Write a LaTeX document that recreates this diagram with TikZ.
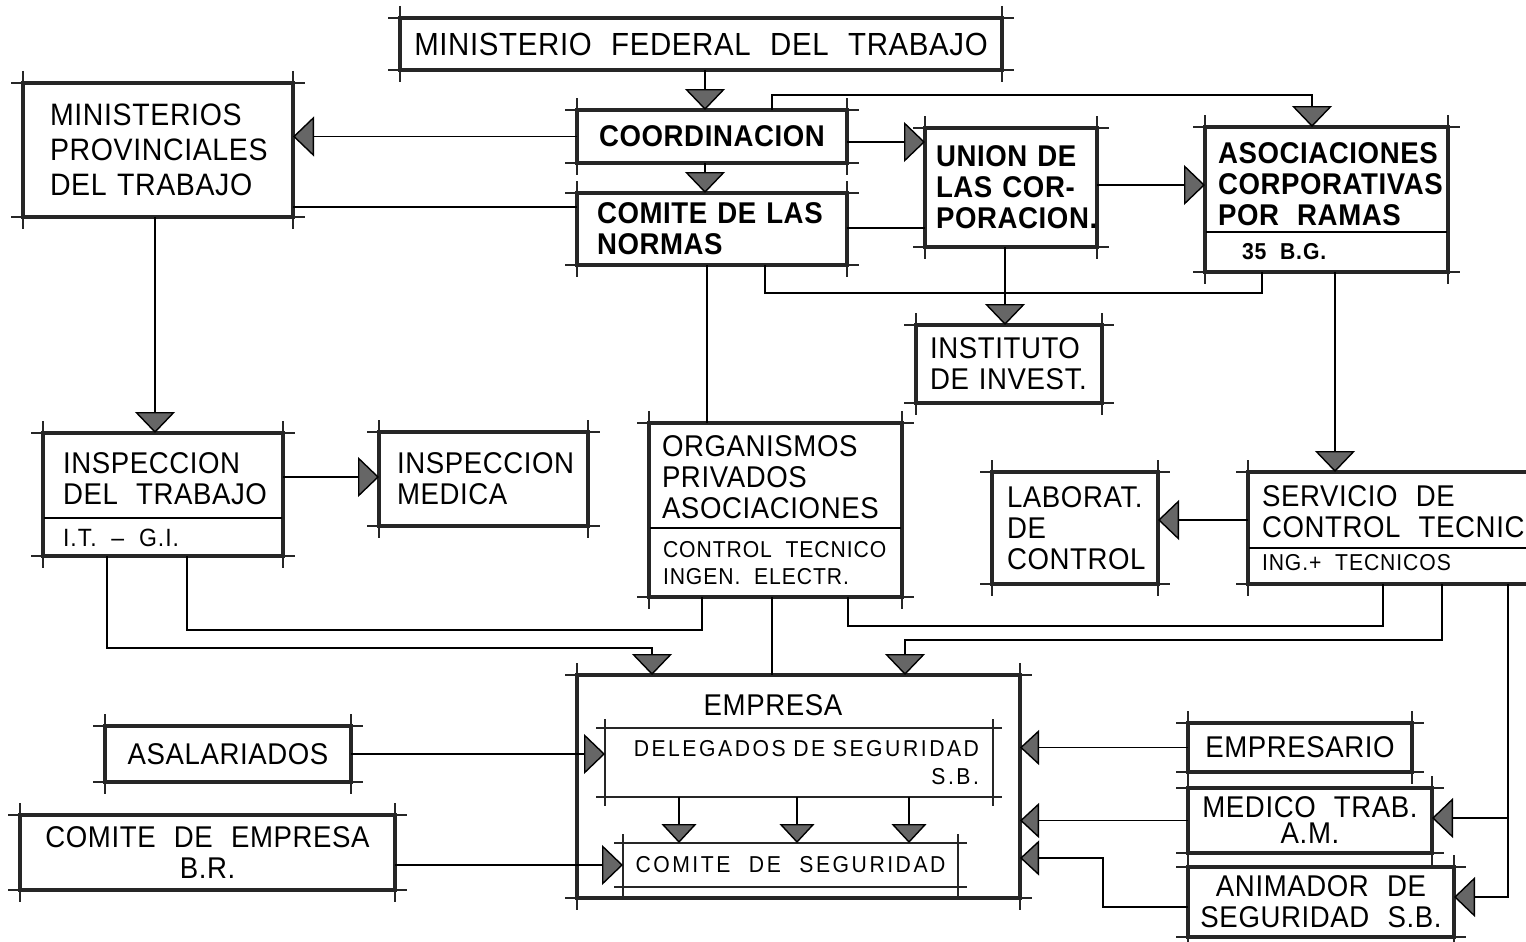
\documentclass[tikz,border=0pt]{standalone}
\usepackage{fontspec}
\setmainfont{Liberation Sans}[FakeStretch=0.92, WordSpace=2.2, LetterSpace=2]
\newfontfamily\smallfont{Liberation Sans}[FakeStretch=0.92, WordSpace=2, LetterSpace=4]
\newfontfamily\widesmallfont{Liberation Sans}[FakeStretch=0.92, WordSpace=2.2, LetterSpace=11]
\usetikzlibrary{arrows.meta,calc}
\newcommand\mainsize{\fontsize{30}{31}\selectfont}
\newcommand\bigsize{\fontsize{32}{34}\selectfont}
\newcommand\provsize{\fontsize{31}{35}\selectfont}
\newcommand\smallsize{\smallfont\fontsize{23}{27}\selectfont}
\newcommand\widesize{\widesmallfont\fontsize{23}{28}\selectfont}
\tikzset{
  box/.style={draw=black!85, line width=4pt, rectangle, inner sep=0pt, outer sep=0pt, fill=white, font=\mainsize},
  thinbox/.style={draw=black, line width=1.3pt, rectangle, inner sep=0pt, outer sep=0pt, font=\widesize},
  txt/.style={inner sep=0pt, outer sep=0pt, font=\mainsize, align=left, anchor=west},
  stxt/.style={txt, font=\smallsize},
  conn/.style={line width=1.4pt, black},
  arr/.style={conn, -{Triangle[width=40pt,length=21pt,fill=black!60]}},
  arrs/.style={conn, -{Triangle[width=35pt,length=19pt,fill=black!60]}},
  tick/.style={line width=1.1pt, black!85},
}
\newcommand\boxticks[2][12]{%
  \draw[tick] ($(#2.north west)+(-#1,0)$) -- ($(#2.north east)+(#1,0)$);
  \draw[tick] ($(#2.south west)+(-#1,0)$) -- ($(#2.south east)+(#1,0)$);
  \draw[tick] ($(#2.north west)+(0,-#1)$) -- ($(#2.south west)+(0,#1)$);
  \draw[tick] ($(#2.north east)+(0,-#1)$) -- ($(#2.south east)+(0,#1)$);
}
\begin{document}
\begin{tikzpicture}[x=1pt,y=-1pt]
\useasboundingbox (0,0) rectangle (1526,942);

% ---------- boxes ----------
\node[box, minimum width=602, minimum height=52, font=\bigsize] (mft) at (701,44) {MINISTERIO FEDERAL DEL TRABAJO};
\node[box, minimum width=270, minimum height=134, text width=216, inner xsep=27, align=left, font=\provsize] (mpt) at (158,150) {MINISTERIOS\\PROVINCIALES\\DEL TRABAJO};
\node[box, minimum width=270, minimum height=53, font=\mainsize\bfseries] (crd) at (712,136.5) {COORDINACION};
\node[box, minimum width=270, minimum height=72, text width=230, inner xsep=20, align=left, font=\mainsize\bfseries] (cdn) at (712,229) {COMITE DE LAS\\NORMAS};
\node[box, minimum width=172, minimum height=119, text width=150, inner xsep=11, align=left, font=\mainsize\bfseries] (uni) at (1011,187.5) {\makebox[150pt][s]{UNION DE}\\\makebox[150pt][s]{LAS COR-}\\PORACION.};
\node[box, minimum width=243, minimum height=145] (aso) at (1326.5,199.5) {};
\node[box, minimum width=186, minimum height=78, text width=158, inner xsep=14, align=left] (ins) at (1009,364) {INSTITUTO\\DE INVEST.};
\node[box, minimum width=253, minimum height=174] (org) at (775.5,510) {};
\node[box, minimum width=240, minimum height=123] (itr) at (163,494.5) {};
\node[box, minimum width=209, minimum height=94, text width=173, inner xsep=18, align=left] (imd) at (483.5,479) {INSPECCION\\MEDICA};
\node[box, minimum width=166, minimum height=112, text width=136, inner xsep=15, align=left] (lab) at (1075,528) {LABORAT.\\DE\\CONTROL};
\node[box, minimum width=297, minimum height=112] (ser) at (1396.5,528) {};
\node[box, minimum width=443, minimum height=223] (emp) at (798.5,786.5) {};
\node[thinbox, minimum width=388, minimum height=69, text width=360, inner xsep=14, align=right] (dlg) at (799,762.5) {DELEGADOS DE SEGURIDAD\\S.B.\hspace*{12pt}};
\node[thinbox, minimum width=335, minimum height=44] (cse) at (790.5,865) {COMITE DE SEGURIDAD};
\node[box, minimum width=246, minimum height=56] (asa) at (228,754) {ASALARIADOS};
\node[box, minimum width=375, minimum height=75, align=center] (cem) at (207.5,852.5) {COMITE DE EMPRESA\\B.R.};
\node[box, minimum width=224, minimum height=49] (epr) at (1300,747.5) {EMPRESARIO};
\node[box, minimum width=244, minimum height=65, align=center] (med) at (1310,820.5) {MEDICO TRAB.\\[-5pt]A.M.};
\node[box, minimum width=266, minimum height=70, align=center] (ani) at (1321,902) {ANIMADOR DE\\SEGURIDAD S.B.};

% texts of divided boxes
\node[txt, font=\mainsize\bfseries] (asoT) at (1218,184) {ASOCIACIONES\\CORPORATIVAS\\POR RAMAS};
\node[stxt, font=\smallsize\bfseries] (asoS) at (1242,252) {35 B.G.};
\node[txt] (orgT) at (662,477) {ORGANISMOS\\PRIVADOS\\ASOCIACIONES};
\node[stxt] (orgS) at (663,563.5) {CONTROL TECNICO\\INGEN. ELECTR.};
\node[txt] (itrT) at (63,478.5) {INSPECCION\\DEL TRABAJO};
\node[stxt, font=\smallfont\fontsize{25}{27}\selectfont] (itrS) at (63,538) {I.T. – G.I.};
\node[txt] (serT) at (1262,512) {SERVICIO DE\\CONTROL TECNICO};
\node[stxt] (serS) at (1262,563) {ING.+ TECNICOS};
\node[inner sep=0pt, font=\mainsize] (empT) at (773,705) {EMPRESA};

% dividers
\draw[conn] (aso.west |- 0,232) -- (aso.east |- 0,232);
\draw[conn] (org.west |- 0,528) -- (org.east |- 0,528);
\draw[conn] (itr.west |- 0,518) -- (itr.east |- 0,518);
\draw[conn] (ser.west |- 0,548) -- (ser.east |- 0,548);

% corner ticks
\foreach \b in {mft,mpt,crd,cdn,uni,aso,ins,org,itr,imd,lab,ser,emp,asa,cem,epr,med,ani}{\boxticks{\b}}
\boxticks[9]{dlg}
\boxticks[9]{cse}

% ---------- connectors ----------
\draw[arr] (705,0 |- mft.south) -- (705,0 |- crd.north);
\draw[arr] (705,0 |- crd.south) -- (705,0 |- cdn.north);
\draw[arr] (crd.west) -- (crd.west -| mpt.east);
\draw[arr] (772,0 |- crd.north) -- (772,95) -| (1312,0 |- aso.north);
\draw[conn] (mpt.east |- 0,207) -- (cdn.west |- 0,207);
\draw[arr] (crd.east |- 0,142) -- (uni.west |- 0,142);
\draw[conn] (cdn.east |- 0,228) -- (uni.west |- 0,228);
\draw[arr] (uni.east |- 0,185) -- (aso.west |- 0,185);
\draw[arr] (1005,0 |- uni.south) -- (1005,0 |- ins.north);
\draw[conn] (765,0 |- cdn.south) -- (765,293) -| (1262,0 |- aso.south);
\draw[conn] (707,0 |- cdn.south) -- (707,0 |- org.north);
\draw[arr] (155,0 |- mpt.south) -- (155,0 |- itr.north);
\draw[arr] (itr.east |- 0,477) -- (imd.west |- 0,477);
\draw[arr] (107,0 |- itr.south) -- (107,648) -| (652,0 |- emp.north);
\draw[conn] (187,0 |- itr.south) -- (187,630) -| (702,0 |- org.south);
\draw[conn] (772,0 |- org.south) -- (772,0 |- emp.north);
\draw[conn] (848,0 |- org.south) -- (848,626) -| (1383,0 |- ser.south);
\draw[arr] (1442,0 |- ser.south) -- (1442,640) -| (905,0 |- emp.north);
\draw[arr] (1335,0 |- aso.south) -- (1335,0 |- ser.north);
\draw[arr] (ser.west |- 0,520) -- (lab.east |- 0,520);
\draw[arr] (1508,0 |- ser.south) -- (1508,897) -- (ani.east |- 0,897);
\coordinate (j1) at (1508,818);
\draw[arr] (j1) -- (med.east |- j1);
\draw[arr] (asa.east) -- (asa.east -| dlg.west);
\draw[arr] (cse.west -| cem.east) -- (cse.west);
\draw[arrs] (epr.west) -- (epr.west -| emp.east);
\draw[arrs] (med.west) -- (med.west -| emp.east);
\draw[arrs] (ani.west |- 0,907) -- (1103,907) -- (1103,858) -- (emp.east |- 0,858);
\foreach \x in {679,797,909}{\draw[arrs] (\x,0 |- dlg.south) -- (\x,0 |- cse.north);}
\end{tikzpicture}
\end{document}
